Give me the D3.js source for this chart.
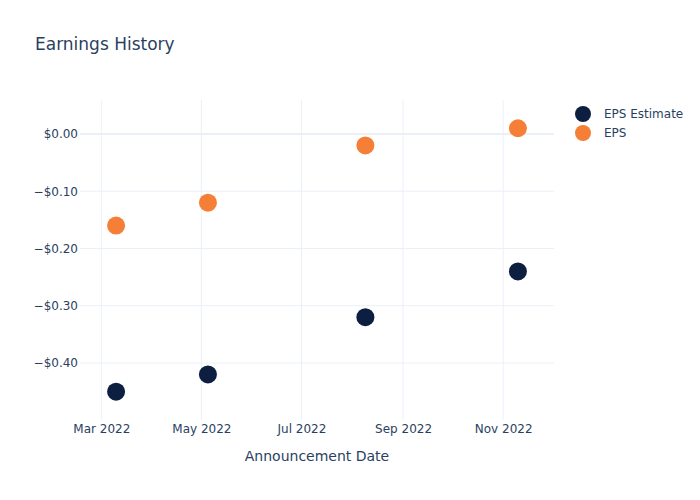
<!DOCTYPE html>
<html>
<head>
<meta charset="utf-8">
<script src="https://cdn.jsdelivr.net/npm/d3@7"></script>
<style>
  html, body { margin: 0; padding: 0; background: #fff; }
  svg { display: block; font-family: "DejaVu Sans", sans-serif; }
</style>
</head>
<body>
<svg id="chart" width="700" height="500"></svg>
<script>
const dates = ["2022-03-10", "2022-05-05", "2022-08-09", "2022-11-10"];
const epsEstimate = [-0.45, -0.42, -0.32, -0.24];
const eps = [-0.16, -0.12, -0.02, 0.01];
const seriesNames = ["EPS Estimate", "EPS"];
const seriesColors = ["#0c1f40", "#f57f36"];
const yTicks = [0, -0.1, -0.2, -0.3, -0.4];
const xTicks = ["2022-03-01", "2022-05-01", "2022-07-01", "2022-09-01", "2022-11-01"];

const parse = d3.utcParse("%Y-%m-%d");
const svg = d3.select("#chart");
const margin = { left: 80, right: 146, top: 100, bottom: 80 };
const W = 700, H = 500;
const fontFamily = "'DejaVu Sans', sans-serif";

const x = d3.scaleUtc()
  .domain([parse("2022-02-16"), parse("2022-12-02")])
  .range([margin.left, W - margin.right]);
const y = d3.scaleLinear()
  .domain([-0.5013, 0.0576])
  .range([H - margin.bottom + 1, margin.top + 1]);

const textColor = "#2a3f5f";
const gridColor = "#ebf0f8";

// grid
const g = svg.append("g");
g.selectAll("line.vgrid").data(xTicks).enter().append("line")
  .attr("x1", d => x(parse(d))).attr("x2", d => x(parse(d)))
  .attr("y1", margin.top).attr("y2", H - margin.bottom)
  .attr("stroke", gridColor).attr("stroke-width", 1);
g.selectAll("line.hgrid").data(yTicks).enter().append("line")
  .attr("x1", margin.left).attr("x2", W - margin.right)
  .attr("y1", d => y(d)).attr("y2", d => y(d))
  .attr("stroke", gridColor).attr("stroke-width", d => d === 0 ? 2 : 1);

// y axis
const fmt = v => (v < 0 ? "\u2212" : "") + "$" + Math.abs(v).toFixed(2);
const yAxis = d3.axisLeft(y).tickValues(yTicks).tickFormat(fmt).tickSize(0).tickPadding(2);
const ya = svg.append("g").attr("transform", `translate(${margin.left},0)`).call(yAxis);
ya.select(".domain").remove();
ya.selectAll("text").attr("fill", textColor).attr("font-size", 12)
  .attr("font-family", fontFamily);

// x axis
const xAxis = d3.axisBottom(x).tickValues(xTicks.map(parse))
  .tickFormat(d3.utcFormat("%b %Y")).tickSize(0).tickPadding(4);
const xa = svg.append("g").attr("transform", `translate(0,${H - margin.bottom})`).call(xAxis);
xa.select(".domain").remove();
xa.selectAll("text").attr("fill", textColor).attr("font-size", 12)
  .attr("font-family", fontFamily);

// axis title
svg.append("text")
  .attr("x", (margin.left + W - margin.right) / 2).attr("y", 461)
  .attr("text-anchor", "middle").attr("fill", textColor).attr("font-size", 14)
  .attr("font-family", fontFamily)
  .text("Announcement Date");

// title
svg.append("text").attr("x", 35).attr("y", 50)
  .attr("fill", textColor).attr("font-size", 17)
  .attr("font-family", fontFamily).text("Earnings History");

// points
const series = [epsEstimate, eps];
series.forEach((vals, i) => {
  svg.append("g").selectAll("circle").data(vals).enter().append("circle")
    .attr("cx", (d, j) => x(parse(dates[j])))
    .attr("cy", d => y(d))
    .attr("r", 9)
    .attr("fill", seriesColors[i]);
});

// legend
const leg = svg.append("g");
seriesNames.forEach((name, i) => {
  const yy = 114 + i * 19;
  leg.append("circle").attr("cx", 583).attr("cy", yy).attr("r", 8).attr("fill", seriesColors[i]);
  leg.append("text").attr("x", 604).attr("y", yy + 4).attr("fill", textColor)
    .attr("font-size", 12).attr("font-family", fontFamily).text(name);
});
</script>
</body>
</html>
